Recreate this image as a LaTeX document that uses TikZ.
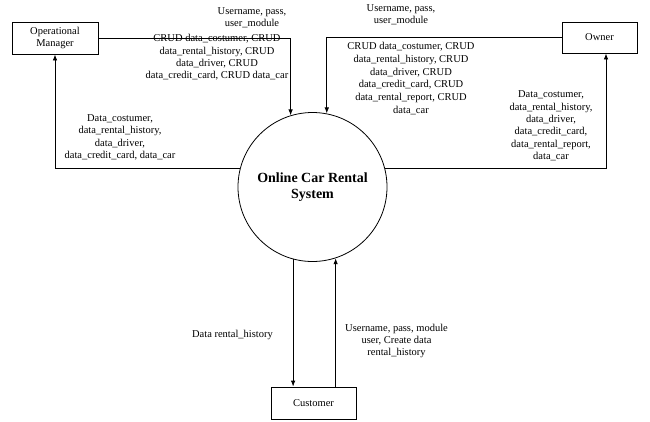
\documentclass[tikz,border=0pt]{standalone}
\usepackage{fontspec}
\setmainfont{Liberation Serif}
\usetikzlibrary{arrows.meta}
\begin{document}
\begin{tikzpicture}[x=1pt,y=-1pt,
  every node/.style={font=\fontsize{10.5}{12.4}\selectfont},
  box/.style={draw,thick,line width=0.8pt,align=center,inner sep=0pt},
  proc/.style={draw,circle,line width=0.8pt,minimum size=149pt,inner sep=0pt,align=center,
    font=\fontsize{14}{16.7}\selectfont\bfseries},
  lbl/.style={align=center,inner sep=0pt},
  flow/.style={line width=0.8pt,-{Latex[length=6pt,width=4.5pt]}}]
\useasboundingbox (0,0) rectangle (650,421);
\node[box,minimum width=86pt,minimum height=32pt] (om) at (55,38) {Operational\\Manager};
\node[box,minimum width=75pt,minimum height=31pt] (owner) at (599.5,37.5) {Owner};
\node[box,minimum width=85pt,minimum height=32pt] (cust) at (313.5,403) {Customer};
\node[proc] (sys) at (312.5,187) {Online Car Rental\\System};
\draw[flow] (om.east) -| (sys.107);
\draw[flow] (owner.west) -| (sys.79);
\draw[flow] (sys.166) -| (om.south);
\draw[flow] (sys.14) -| ([xshift=6.5pt]owner.south);
\draw[flow] (sys.255) -- (sys.255 |- cust.north);
\draw[flow] (cust.north -| sys.288) -- (sys.288);
\node[lbl] (l1) at (252,18) {Username, pass,\\user\_module};
\node[lbl] (l2) at (217,57.5) {CRUD data\_costumer, CRUD\\data\_rental\_history, CRUD\\data\_driver, CRUD\\data\_credit\_card, CRUD data\_car};
\node[lbl] (l3) at (401,14.5) {Username, pass,\\user\_module};
\node[lbl,font=\fontsize{10.5}{12.9}\selectfont] (l4) at (411,78.5) {CRUD data\_costumer, CRUD\\data\_rental\_history, CRUD\\data\_driver, CRUD\\data\_credit\_card, CRUD\\data\_rental\_report, CRUD\\data\_car};
\node[lbl] (l5) at (120,137.5) {Data\_costumer,\\data\_rental\_history,\\data\_driver,\\data\_credit\_card, data\_car};
\node[lbl] (l6) at (551,126) {Data\_costumer,\\data\_rental\_history,\\data\_driver,\\data\_credit\_card,\\data\_rental\_report,\\data\_car};
\node[lbl] (l7) at (232.5,335) {Data rental\_history};
\node[lbl] (l8) at (396.5,341) {Username, pass, module\\user, Create data\\rental\_history};
\end{tikzpicture}
\end{document}
